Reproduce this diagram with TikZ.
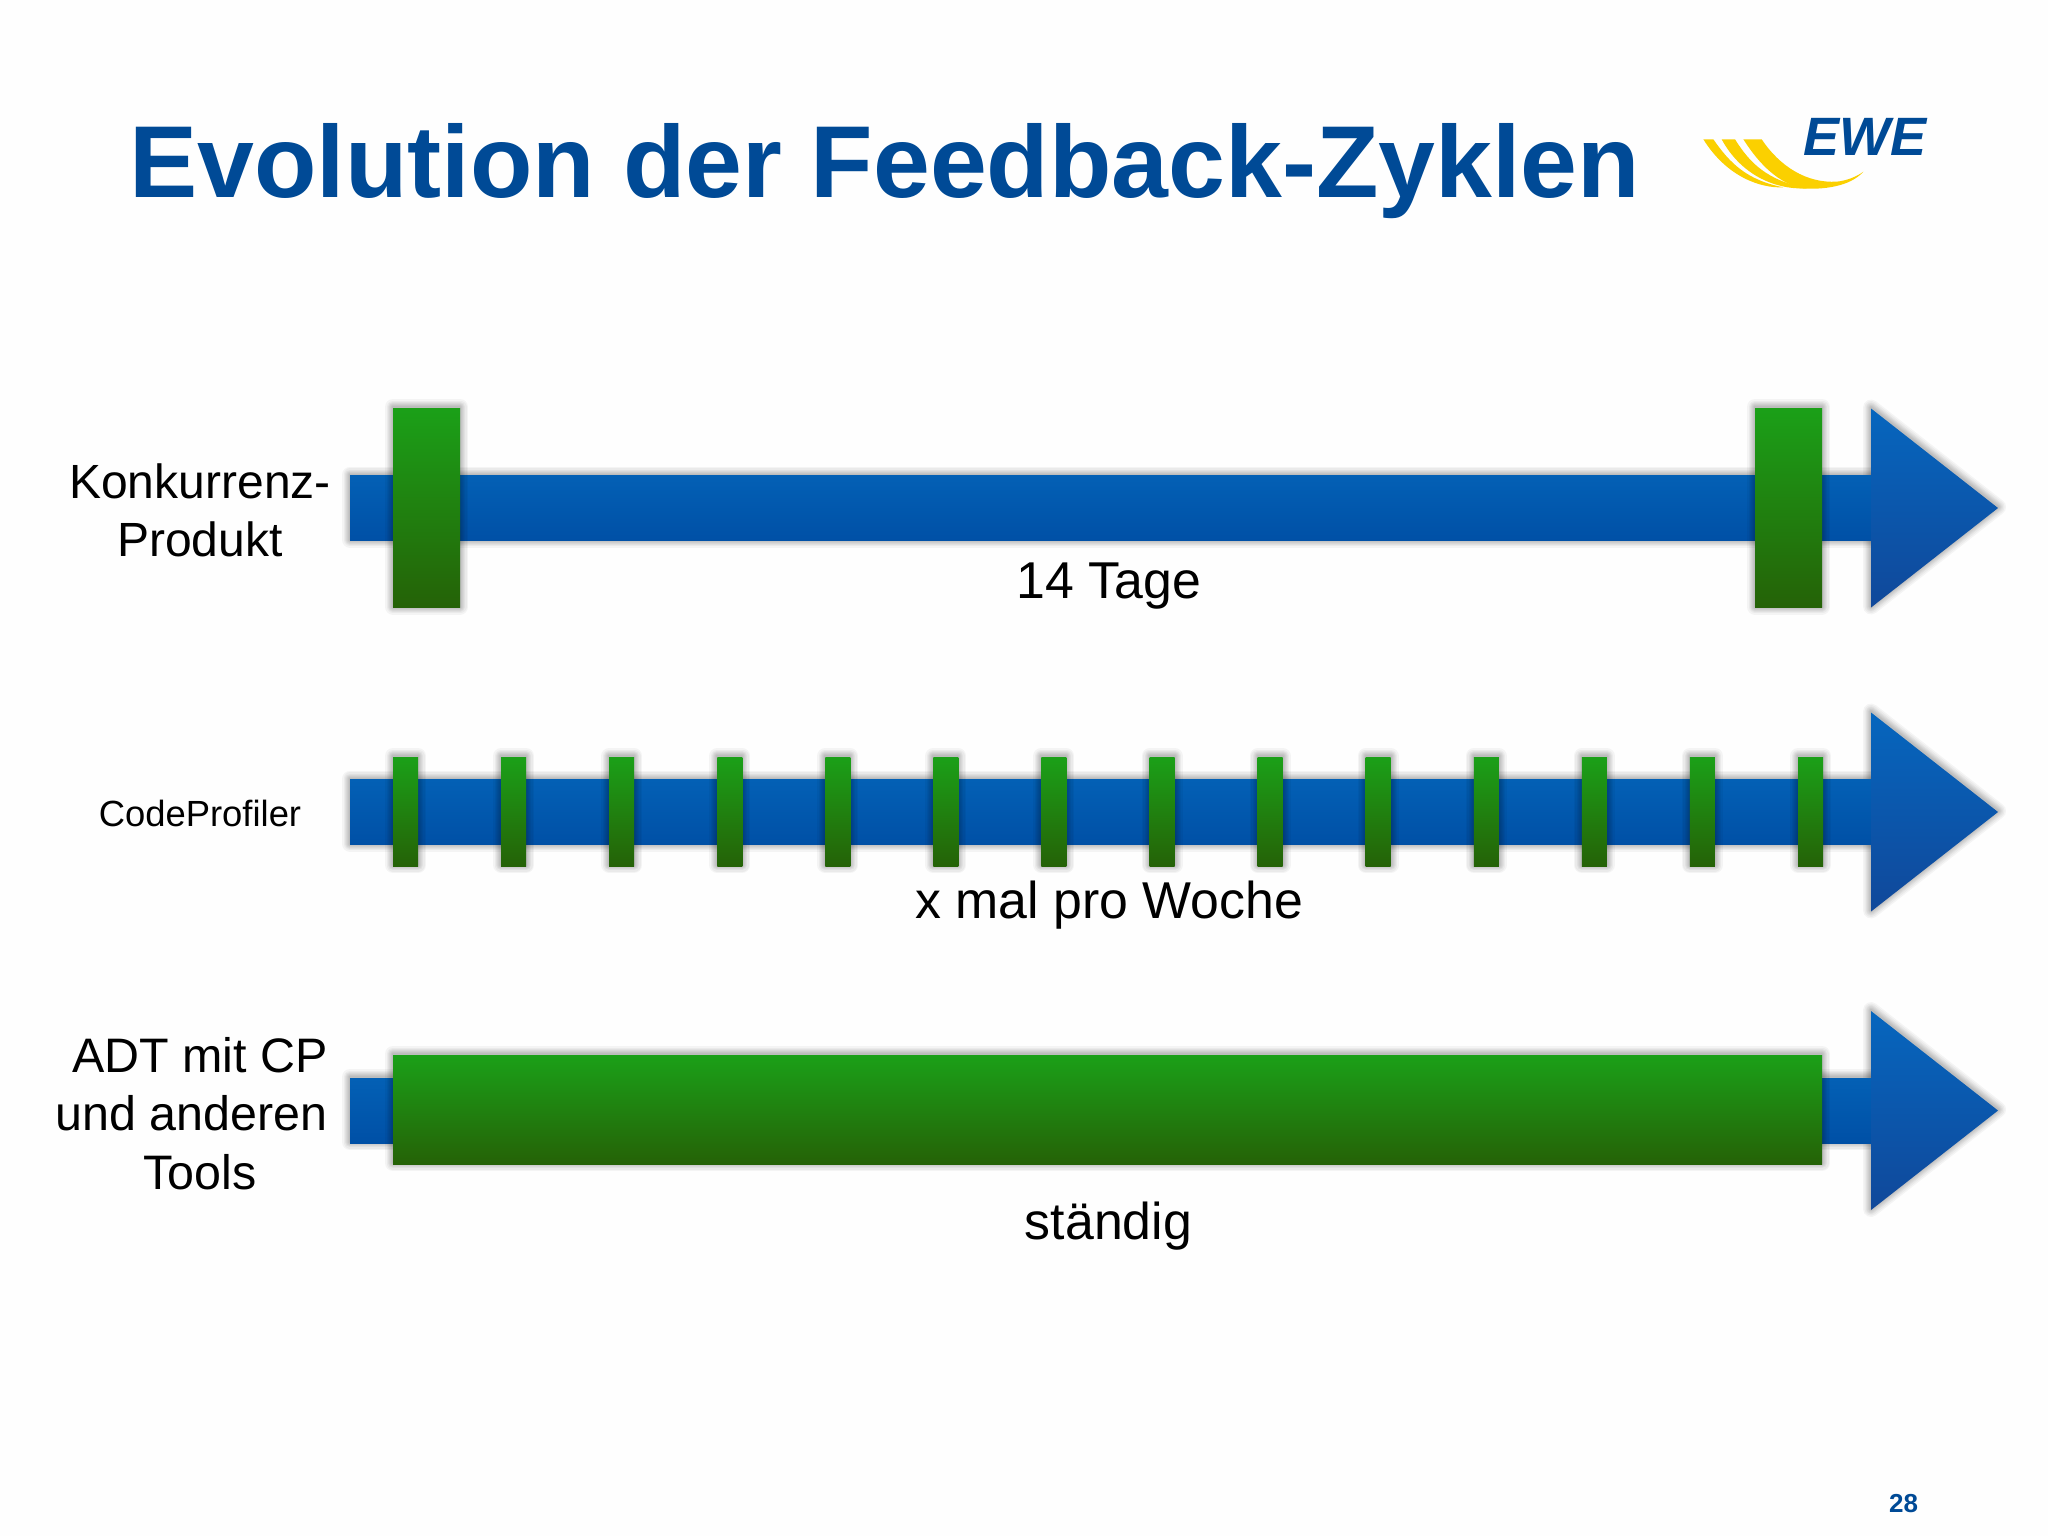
\documentclass[tikz,border=0pt]{standalone}
\usepackage{fontspec}
\setmainfont{Liberation Sans}
\newfontfamily\logofont[BoldFeatures={FakeBold=2.5},ItalicFeatures={FakeSlant=0.12}]{Liberation Sans}
\definecolor{titleblue}{HTML}{004A96}
\definecolor{bluetop}{HTML}{0360B5}
\definecolor{bluebot}{HTML}{0050A6}
\definecolor{headtop}{HTML}{0666BE}
\definecolor{headbot}{HTML}{10489A}
\definecolor{greentop}{HTML}{1BA018}
\definecolor{greenbot}{HTML}{256207}
\definecolor{swoosh}{HTML}{FBD000}
\tikzset{
  x=0.5pt,y=-0.5pt,
  barfill/.style={top color=bluetop,bottom color=bluebot,draw=none},
  headfill/.style={top color=headtop,bottom color=headbot,draw=none},
  greenfill/.style={top color=greentop,bottom color=greenbot,draw=none},
  lbl/.style={font=\fontsize{24}{29}\selectfont,text=black,align=center,inner sep=0pt},
  captxt/.style={font=\fontsize{25.9}{30}\selectfont,text=black,inner sep=0pt},
  swooshfill/.style={fill=swoosh,draw=none},
}
\newcommand{\softshadow}[1]{%
  \begin{scope}[yshift=0.5pt]
  \foreach \w in {8,6.5,5,4,3,2,1}{\draw[black,opacity=.04,line width=\w pt,line join=round] #1;}%
  \end{scope}
}
\newcommand{\arrowrow}[2]{% ybar, yhead
  \softshadow{(350,#1-32.5) rectangle (1880,#1+32.5)}
  \softshadow{(1871,#2-99.5) -- (1998,#2) -- (1871,#2+99.5) -- cycle}
  \path[barfill] (350,#1-32.5) rectangle (1880,#1+32.5);
  \path[headfill] (1871,#2-99.5) -- (1998,#2) -- (1871,#2+99.5) -- cycle;
}
\newcommand{\greenbar}[4]{% x1,y1,x2,y2
  \softshadow{(#1,#2) rectangle (#3,#4)}
  \path[greenfill] (#1,#2) rectangle (#3,#4);
}
\begin{document}
\begin{tikzpicture}
\useasboundingbox (0,0) rectangle (2048,1536);
\fill[white!99.6!black] (0,0) rectangle (2048,1536);
\node[anchor=base west,inner sep=0pt,text=titleblue,font=\fontsize{51.1}{60}\selectfont\bfseries] (title) at (129,197) {Evolution der Feedback-Zyklen};
% logo
\begin{scope}[shift={(1650,80)},x=0.16667pt,y=-0.16667pt]
  \path[swooshfill] (160,178) -- (190,178) .. controls (240,250) and (290,300) .. (400,322) .. controls (330,325) and (230,290) .. cycle;
  \path[swooshfill] (215,178) -- (255,178) .. controls (300,250) and (350,300) .. (470,325) .. controls (370,330) and (270,280) .. cycle;
  \path[swooshfill] (280,178) -- (335,178) .. controls (390,260) and (470,310) .. (560,305) .. controls (590,302) and (620,290) .. (640,275) .. controls (600,320) and (520,330) .. (450,325) .. controls (370,300) and (320,240) .. cycle;
  \node[anchor=base west,inner sep=0pt,text=titleblue,font=\logofont\fontsize{27}{30}\selectfont\bfseries\itshape] (logo) at (460,225) {EWE};
\end{scope}
% row 1
\arrowrow{508}{508}
\greenbar{393}{408}{460}{607.5}
\greenbar{1755}{408}{1822}{607.5}
% row 2
\arrowrow{812}{812}
\foreach \i in {0,...,13}{\pgfmathsetmacro{\xa}{393+108.08*\i}\pgfmathsetmacro{\xb}{\xa+25}\greenbar{\xa}{757}{\xb}{866}}
% row 3
\arrowrow{1110.5}{1110.5}
\greenbar{393}{1055}{1822}{1164}
% labels
\node[lbl] (l1) at (200,510) {Konkurrenz-\\Produkt};
\node[captxt] (c1) at (1109,586) {14 Tage};
\node[inner sep=0pt,font=\fontsize{18.2}{20}\selectfont] (l2) at (200,813) {CodeProfiler};
\node[captxt] (c2) at (1109,905) {x mal pro Woche};
\node[lbl,font=\fontsize{24.2}{29.4}\selectfont] (l3) at (200,1113.5) {ADT mit CP\\und anderen\kern 8.5pt\\Tools};
\node[captxt] (c3) at (1108.5,1226) {ständig};
\node[inner sep=0pt,text=titleblue,font=\fontsize{13}{14}\selectfont\bfseries] (pg) at (1903.5,1503.5) {28};
\end{tikzpicture}
\end{document}
